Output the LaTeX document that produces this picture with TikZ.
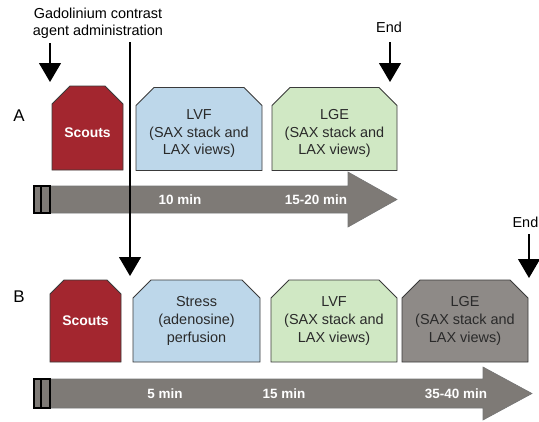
\documentclass[tikz,border=0pt]{standalone}
\usepackage{fontspec}
\setmainfont{Liberation Sans}
\usetikzlibrary{shapes.misc,arrows.meta}
\definecolor{scoutred}{HTML}{A3262F}
\definecolor{lblue}{HTML}{BDD7EA}
\definecolor{lgreen}{HTML}{D0E8C4}
\definecolor{lgegrey}{HTML}{8E8A87}
\definecolor{bargrey}{HTML}{7E7A76}
\definecolor{bordercol}{HTML}{3A3A3A}
\definecolor{textcol}{HTML}{2A2A2A}
\newcommand{\dropA}{\rule{0pt}{19bp}}
\tikzset{
  stage/.style={chamfered rectangle, chamfered rectangle corners={north west,north east},
    chamfered rectangle xsep=9bp, chamfered rectangle ysep=9bp,
    draw=bordercol, line width=0.9bp, inner sep=0pt, align=center,
    minimum height=83bp, font=\fontsize{14.5}{18}\selectfont, text=textcol},
  scoutbox/.style={stage, fill=scoutred, text=white, minimum width=71bp,
    font=\fontsize{14}{18}\selectfont\bfseries},
  wide/.style={minimum width=126bp},
  bar/.style={fill=bargrey, draw=bordercol!70, line width=0.6bp},
  tlabel/.style={text=white, font=\fontsize{13.5}{16}\selectfont\bfseries, inner sep=0pt},
  head/.style={font=\fontsize{14.5}{17}\selectfont, align=center, inner sep=0pt},
  panel/.style={font=\fontsize{17}{20}\selectfont, inner sep=0pt},
  pointer/.style={line width=1.1bp, -{Triangle[width=22bp,length=19bp]}},
  marker/.style={draw=black, line width=1.1bp, fill=bargrey}
}
\begin{document}
\begin{tikzpicture}[x=1bp,y=-1bp]
\useasboundingbox (0,0) rectangle (539,421);
% Panel A
\node[panel] (A) at (19,116) {A};
\node[scoutbox, minimum height=84bp] (scA) at (87.5,128) {\dropA Scouts};
\node[stage, wide, fill=lblue] (lvfA) at (199,129) {\dropA LVF\\(SAX stack and\\LAX views)};
\node[stage, wide, fill=lgreen, minimum width=125bp] (lgeA) at (334.5,129) {\dropA LGE\\(SAX stack and\\LAX views)};
% bar A
\fill[bar] (34,186) -- (348,186) -- (348,172) -- (397,199.5) -- (348,227) -- (348,213) -- (34,213) -- cycle;
\draw[marker] (34,186) rectangle (50,213);
\draw[black, line width=1.1bp] (41,186) -- (41,213);
\node[tlabel] (t10) at (180,200) {10 min};
\node[tlabel] (t1520) at (316,200) {15-20 min};
% Panel B
\node[panel] (B) at (19,297) {B};
\node[scoutbox, minimum height=82bp] (scB) at (85.5,321) {Scouts};
\node[stage, minimum width=127bp, minimum height=82bp, fill=lblue] (stress) at (196.5,321) {Stress\\(adenosine)\\perfusion};
\node[stage, wide, minimum height=82bp, fill=lgreen] (lvfB) at (334,321) {LVF\\(SAX stack and\\LAX views)};
\node[stage, wide, minimum height=82bp, fill=lgegrey] (lgeB) at (465,321) {LGE\\(SAX stack and\\LAX views)};
% bar B
\fill[bar] (34,379) -- (483,379) -- (483,367) -- (532,393.5) -- (483,420) -- (483,408) -- (34,408) -- cycle;
\draw[marker] (34,379) rectangle (50,408);
\draw[black, line width=1.1bp] (41,379) -- (41,408);
\node[tlabel] (t5) at (165,393.5) {5 min};
\node[tlabel] (t15) at (284,393.5) {15 min};
\node[tlabel] (t3540) at (456,393.5) {35-40 min};
% headings and pointers
\node[head] (gad) at (98,23) {Gadolinium contrast\\agent administration};
\node[head] (endA) at (389,27) {End};
\node[head, anchor=east] (endB) at (538.5,222) {End};
\coordinate (gadA) at (50,43);
\coordinate (gadAtip) at (50,82);
\coordinate (gadB) at (130,42);
\coordinate (gadBtip) at (130,276);
\coordinate (endAtop) at (390,42);
\coordinate (endAtip) at (390,82);
\coordinate (endBtop) at (529,234);
\coordinate (endBtip) at (529,278);
\draw[pointer] (gadA) -- (gadAtip);
\draw[pointer] (gadB) -- (gadBtip);
\draw[pointer] (endAtop) -- (endAtip);
\draw[pointer] (endBtop) -- (endBtip);
\end{tikzpicture}
\end{document}
